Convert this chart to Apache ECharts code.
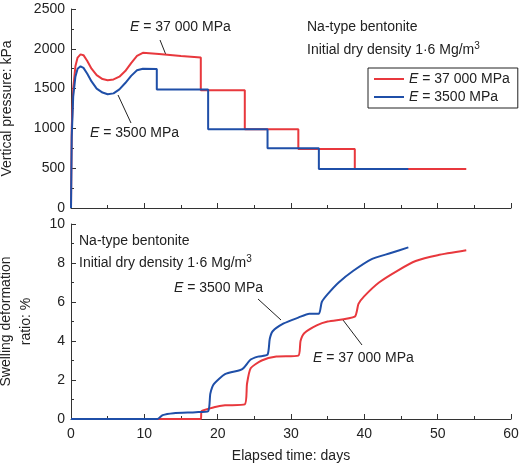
<!DOCTYPE html>
<html>
<head>
<meta charset="utf-8">
<script src="https://cdn.jsdelivr.net/npm/echarts@6/dist/echarts.min.js"></script>
<style>html,body{margin:0;padding:0;background:#fff}#chart{width:520px;height:472px}</style>
</head>
<body>
<div id="chart"></div>
<script>
// pressure vs time [day, kPa]
const pressureStiff = [[0,0],[0.1,1000],[0.3,1500],[0.6,1780],[0.9,1890],[1.3,1930],[1.7,1920],[2.2,1850],[2.8,1750],[3.5,1670],[4.3,1620],[5,1605],[5.8,1615],[6.6,1650],[7.4,1720],[8.2,1820],[9,1910],[9.8,1950],[12,1935],[15,1910],[17.7,1890],[17.7,1480],[23.7,1480],[23.7,990],[31,990],[31,740],[38.7,740],[38.7,490],[53.9,490]];
const pressureSoft = [[0,0],[0.1,900],[0.3,1400],[0.6,1650],[0.9,1750],[1.3,1780],[1.7,1760],[2.2,1690],[2.8,1590],[3.5,1500],[4.3,1450],[5,1430],[5.8,1440],[6.6,1490],[7.4,1570],[8.2,1660],[9,1730],[9.8,1750],[11.7,1745],[11.7,1490],[18.7,1490],[18.7,990],[26.8,990],[26.8,750],[33.8,750],[33.8,490],[46,490]];
// swelling deformation ratio vs time [day, %]
const swellStiff = [[0,0],[17.7,0],[17.8,0.4],[19.5,0.6],[21,0.7],[23.7,0.75],[24,1.8],[24.5,2.6],[26,3.0],[28,3.2],[31,3.25],[31.3,4.0],[31.8,4.4],[33.5,4.8],[35,5.0],[38.7,5.25],[39.2,5.9],[40,6.3],[42,7.0],[44.5,7.6],[47,8.1],[50,8.4],[53.9,8.65]];
const swellSoft = [[0,0],[11.8,0],[12.5,0.2],[14,0.3],[17,0.35],[18.7,0.4],[19,1.3],[19.5,1.8],[21,2.3],[23,2.5],[23.5,2.6],[24.5,3.05],[25.5,3.2],[26.8,3.3],[27.1,4.1],[27.5,4.5],[29,4.9],[31,5.2],[32.5,5.4],[33.8,5.4],[34.2,6.0],[35,6.4],[36.5,7.0],[38.5,7.6],[41,8.2],[43.5,8.5],[46,8.8]];

const RED = '#e8383d', BLUE = '#1f4fa8';
const font = 'Liberation Sans, Arial, sans-serif';
const FS = 14;
const chart = echarts.init(document.getElementById('chart'));
const axisLine = {lineStyle: {color: '#333', width: 1}};
const axisTick = {inside: true, length: 5, lineStyle: {color: '#333'}};
const minorTick = {show: true, splitNumber: 2, length: 3, lineStyle: {color: '#333'}};
const label = {color: '#222', fontSize: FS, fontFamily: font};
const rich = {i: {fontStyle: 'italic', fontSize: FS, fontFamily: font, color: '#222'}, n: {fontSize: FS, fontFamily: font, color: '#222'}};
const supRich = {s: {fontSize: 10, verticalAlign: 'top', fontFamily: font, fill: '#222', padding: [0, 0, 9, 0]}};

function txt(x, y, s, r) {
  return {type: 'text', x: x, y: y, style: {text: s, font: FS + 'px ' + font, fill: '#222', rich: r || rich}};
}
function ln(x1, y1, x2, y2) {
  return {type: 'line', shape: {x1, y1, x2, y2}, style: {stroke: '#222', lineWidth: 1}};
}

chart.setOption({
  animation: false,
  grid: [
    {left: 71, top: 9, width: 440, height: 199, containLabel: false, outerBoundsMode: 'none'},
    {left: 71, top: 224, width: 440, height: 195, containLabel: false, outerBoundsMode: 'none'}
  ],
  legend: {
    data: ['E37', 'E35'], orient: 'vertical', left: 368, top: 68,
    itemWidth: 30, itemHeight: 2, itemGap: 4, padding: [4, 8, 4, 6],
    borderColor: '#222', borderWidth: 1, icon: 'rect',
    formatter: n => n === 'E37' ? '{i|E}{n| = 37 000 MPa}' : '{i|E}{n| = 3500 MPa}',
    textStyle: {rich: rich}
  },
  xAxis: [
    {gridIndex: 0, type: 'value', min: 0, max: 60, interval: 10, axisLine, axisTick, minorTick, axisLabel: {show: false}, splitLine: {show: false}},
    {gridIndex: 1, type: 'value', min: 0, max: 60, interval: 10, axisLine, axisTick, minorTick, axisLabel: label, splitLine: {show: false},
     name: 'Elapsed time: days', nameLocation: 'middle', nameGap: 30, nameTextStyle: label}
  ],
  yAxis: [
    {gridIndex: 0, type: 'value', min: 0, max: 2500, interval: 500, axisLine: Object.assign({show: true}, axisLine), axisTick, minorTick,
     axisLabel: Object.assign({formatter: v => String(v), margin: 6}, label), splitLine: {show: false},
     name: 'Vertical pressure: kPa', nameLocation: 'middle', nameGap: 57, nameTextStyle: label},
    {gridIndex: 1, type: 'value', min: 0, max: 10, interval: 2, axisLine: Object.assign({show: true}, axisLine), axisTick, minorTick,
     axisLabel: Object.assign({margin: 6}, label), splitLine: {show: false},
     name: 'Swelling deformation\nratio: %', nameLocation: 'middle', nameGap: 35, nameTextStyle: Object.assign({lineHeight: 20}, label)}
  ],
  series: [
    {name: 'E37', type: 'line', xAxisIndex: 0, yAxisIndex: 0, data: pressureStiff, showSymbol: false, lineStyle: {color: RED, width: 2}, itemStyle: {color: RED}, z: 2},
    {name: 'E35', type: 'line', xAxisIndex: 0, yAxisIndex: 0, data: pressureSoft, showSymbol: false, lineStyle: {color: BLUE, width: 2}, itemStyle: {color: BLUE}, z: 3},
    {name: 'E37', type: 'line', xAxisIndex: 1, yAxisIndex: 1, data: swellStiff, showSymbol: false, smooth: 0.2, lineStyle: {color: RED, width: 2}, itemStyle: {color: RED}},
    {name: 'E35', type: 'line', xAxisIndex: 1, yAxisIndex: 1, data: swellSoft, showSymbol: false, smooth: 0.2, lineStyle: {color: BLUE, width: 2}, itemStyle: {color: BLUE}}
  ],
  graphic: [
    txt(130, 20, '{i|E}{n| = 37 000 MPa}'),
    ln(166, 55, 160, 40),
    txt(90, 126, '{i|E}{n| = 3500 MPa}'),
    ln(118, 95, 131, 123),
    txt(307, 20, 'Na-type bentonite'),
    txt(307, 41, 'Initial dry density 1·6 Mg/m{s|3}', supRich),
    txt(79, 234, 'Na-type bentonite'),
    txt(79, 254, 'Initial dry density 1·6 Mg/m{s|3}', supRich),
    txt(174, 281, '{i|E}{n| = 3500 MPa}'),
    ln(258, 299, 281, 320),
    txt(313, 351, '{i|E}{n| = 37 000 MPa}'),
    ln(343, 320, 362, 345)
  ]
});
</script>
</body>
</html>
